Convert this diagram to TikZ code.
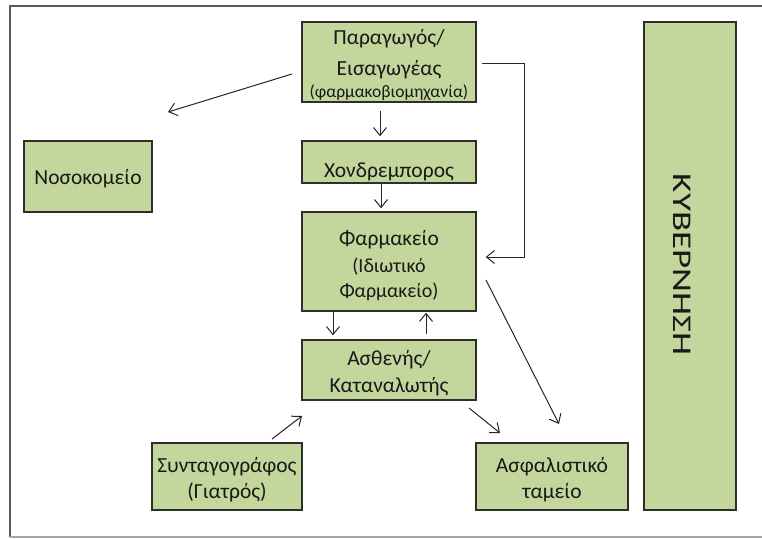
\documentclass[tikz,border=0pt]{standalone}
\usepackage{fontspec}
\setmainfont{Carlito}
\usetikzlibrary{arrows.meta,calc}
\definecolor{boxfill}{HTML}{C3D69B}
\definecolor{boxline}{HTML}{2E2E2E}
\tikzset{
  box/.style={draw=boxline, line width=1.4pt, fill=boxfill, rectangle, inner sep=0pt},
  txt/.style={anchor=base, inner sep=0pt, text=black!90, font=\fontsize{21.5}{26}\selectfont},
  smalltxt/.style={txt, font=\fontsize{17.5}{21}\selectfont},
  midtxt/.style={txt, font=\fontsize{20}{24}\selectfont},
  arr/.style={draw=black!85, line width=1pt, -{Straight Barb[length=8pt,width=13pt,line width=1pt]}},
}
\begin{document}
\begin{tikzpicture}[x=1pt,y=-1pt]
\useasboundingbox (0,0) rectangle (762,538);
% frame
\draw[draw=black!65, line width=1.5pt] (10,537) -- (10,6) -- (762,6);
\draw[draw=black!35, line width=1.5pt] (10,537) -- (762,537);

% boxes
\node[box, minimum width=174pt, minimum height=80pt] (prod) at (389,62) {};
\node[box, minimum width=128pt, minimum height=71pt] (hosp) at (88,176.5) {};
\node[box, minimum width=174pt, minimum height=42pt] (whole) at (389,162) {};
\node[box, minimum width=174pt, minimum height=99pt] (pharm) at (389,261.5) {};
\node[box, minimum width=174pt, minimum height=60pt] (pat) at (389,370) {};
\node[box, minimum width=150pt, minimum height=67pt] (presc) at (227,476.5) {};
\node[box, minimum width=152pt, minimum height=67pt] (ins) at (552,476.5) {};
\node[box, minimum width=92pt, minimum height=488pt] (gov) at (690,266) {};

% texts
\node[txt] (prodt1) at (prod.center |- 0,44) {Παραγωγός/};
\node[txt] (prodt2) at (prod.center |- 0,75) {Εισαγωγέας};
\node[smalltxt] (prodt3) at (prod.center |- 0,97) {(φαρμακοβιομηχανία)};
\node[txt] (hospt) at (hosp.center |- 0,184) {Νοσοκομείο};
\node[txt] (wholet) at (whole.center |- 0,177) {Χονδρεμπορος};
\node[txt] (pharmt1) at (pharm.center |- 0,245) {Φαρμακείο};
\node[midtxt] (pharmt2) at (pharm.center |- 0,272) {(Ιδιωτικό};
\node[midtxt] (pharmt3) at (pharm.center |- 0,297) {Φαρμακείο)};
\node[txt] (patt1) at (pat.center |- 0,365) {Ασθενής/};
\node[txt] (patt2) at (pat.center |- 0,392.5) {Καταναλωτής};
\node[txt] (presct1) at (presc.center |- 0,472) {Συνταγογράφος};
\node[txt] (presct2) at (presc.center |- 0,498.5) {(Γιατρός)};
\node[txt] (inst1) at (ins.center |- 0,472) {Ασφαλιστικό};
\node[txt] (inst2) at (ins.center |- 0,498.5) {ταμείο};
\node[font=\fontsize{27}{30}\selectfont, rotate=-90, text=black!90, inner sep=0pt] (govt) at (682,264.5) {\scalebox{1.37}[1]{ΚΥΒΕΡΝΗΣΗ}};

% connectors
\coordinate (c1s) at (292,74);
\coordinate (c1e) at (168,112);
\draw[arr] (c1s) -- (c1e);
\draw[arr] ($(prod.south)+(-9,8)$) -- ($(whole.north)+(-9,-4)$);
\draw[arr] ($(whole.south)+(-8,0)$) -- ($(pharm.north)+(-8,-3)$);
\coordinate (e1) at (524,63.5);
\coordinate (e2) at (524,257);
\draw[arr] ($(prod.east)+(5,1.5)$) -- (e1) -- (e2) -- ($(pharm.east)+(9,-4.5)$);
\draw[arr] ($(pharm.south)+(-56,0)$) -- ($(pat.north)+(-56,-4)$);
\draw[arr] ($(pat.north)+(37,-5)$) -- ($(pharm.south)+(37,1)$);
\coordinate (c2s) at (486,280);
\coordinate (c2e) at (559,424);
\draw[arr] (c2s) -- (c2e);
\coordinate (c3s) at (469,408);
\coordinate (c3e) at (500,433);
\draw[arr] (c3s) -- (c3e);
\coordinate (c4s) at (272,439);
\coordinate (c4e) at (302,416);
\draw[arr] (c4s) -- (c4e);
\end{tikzpicture}
\end{document}
